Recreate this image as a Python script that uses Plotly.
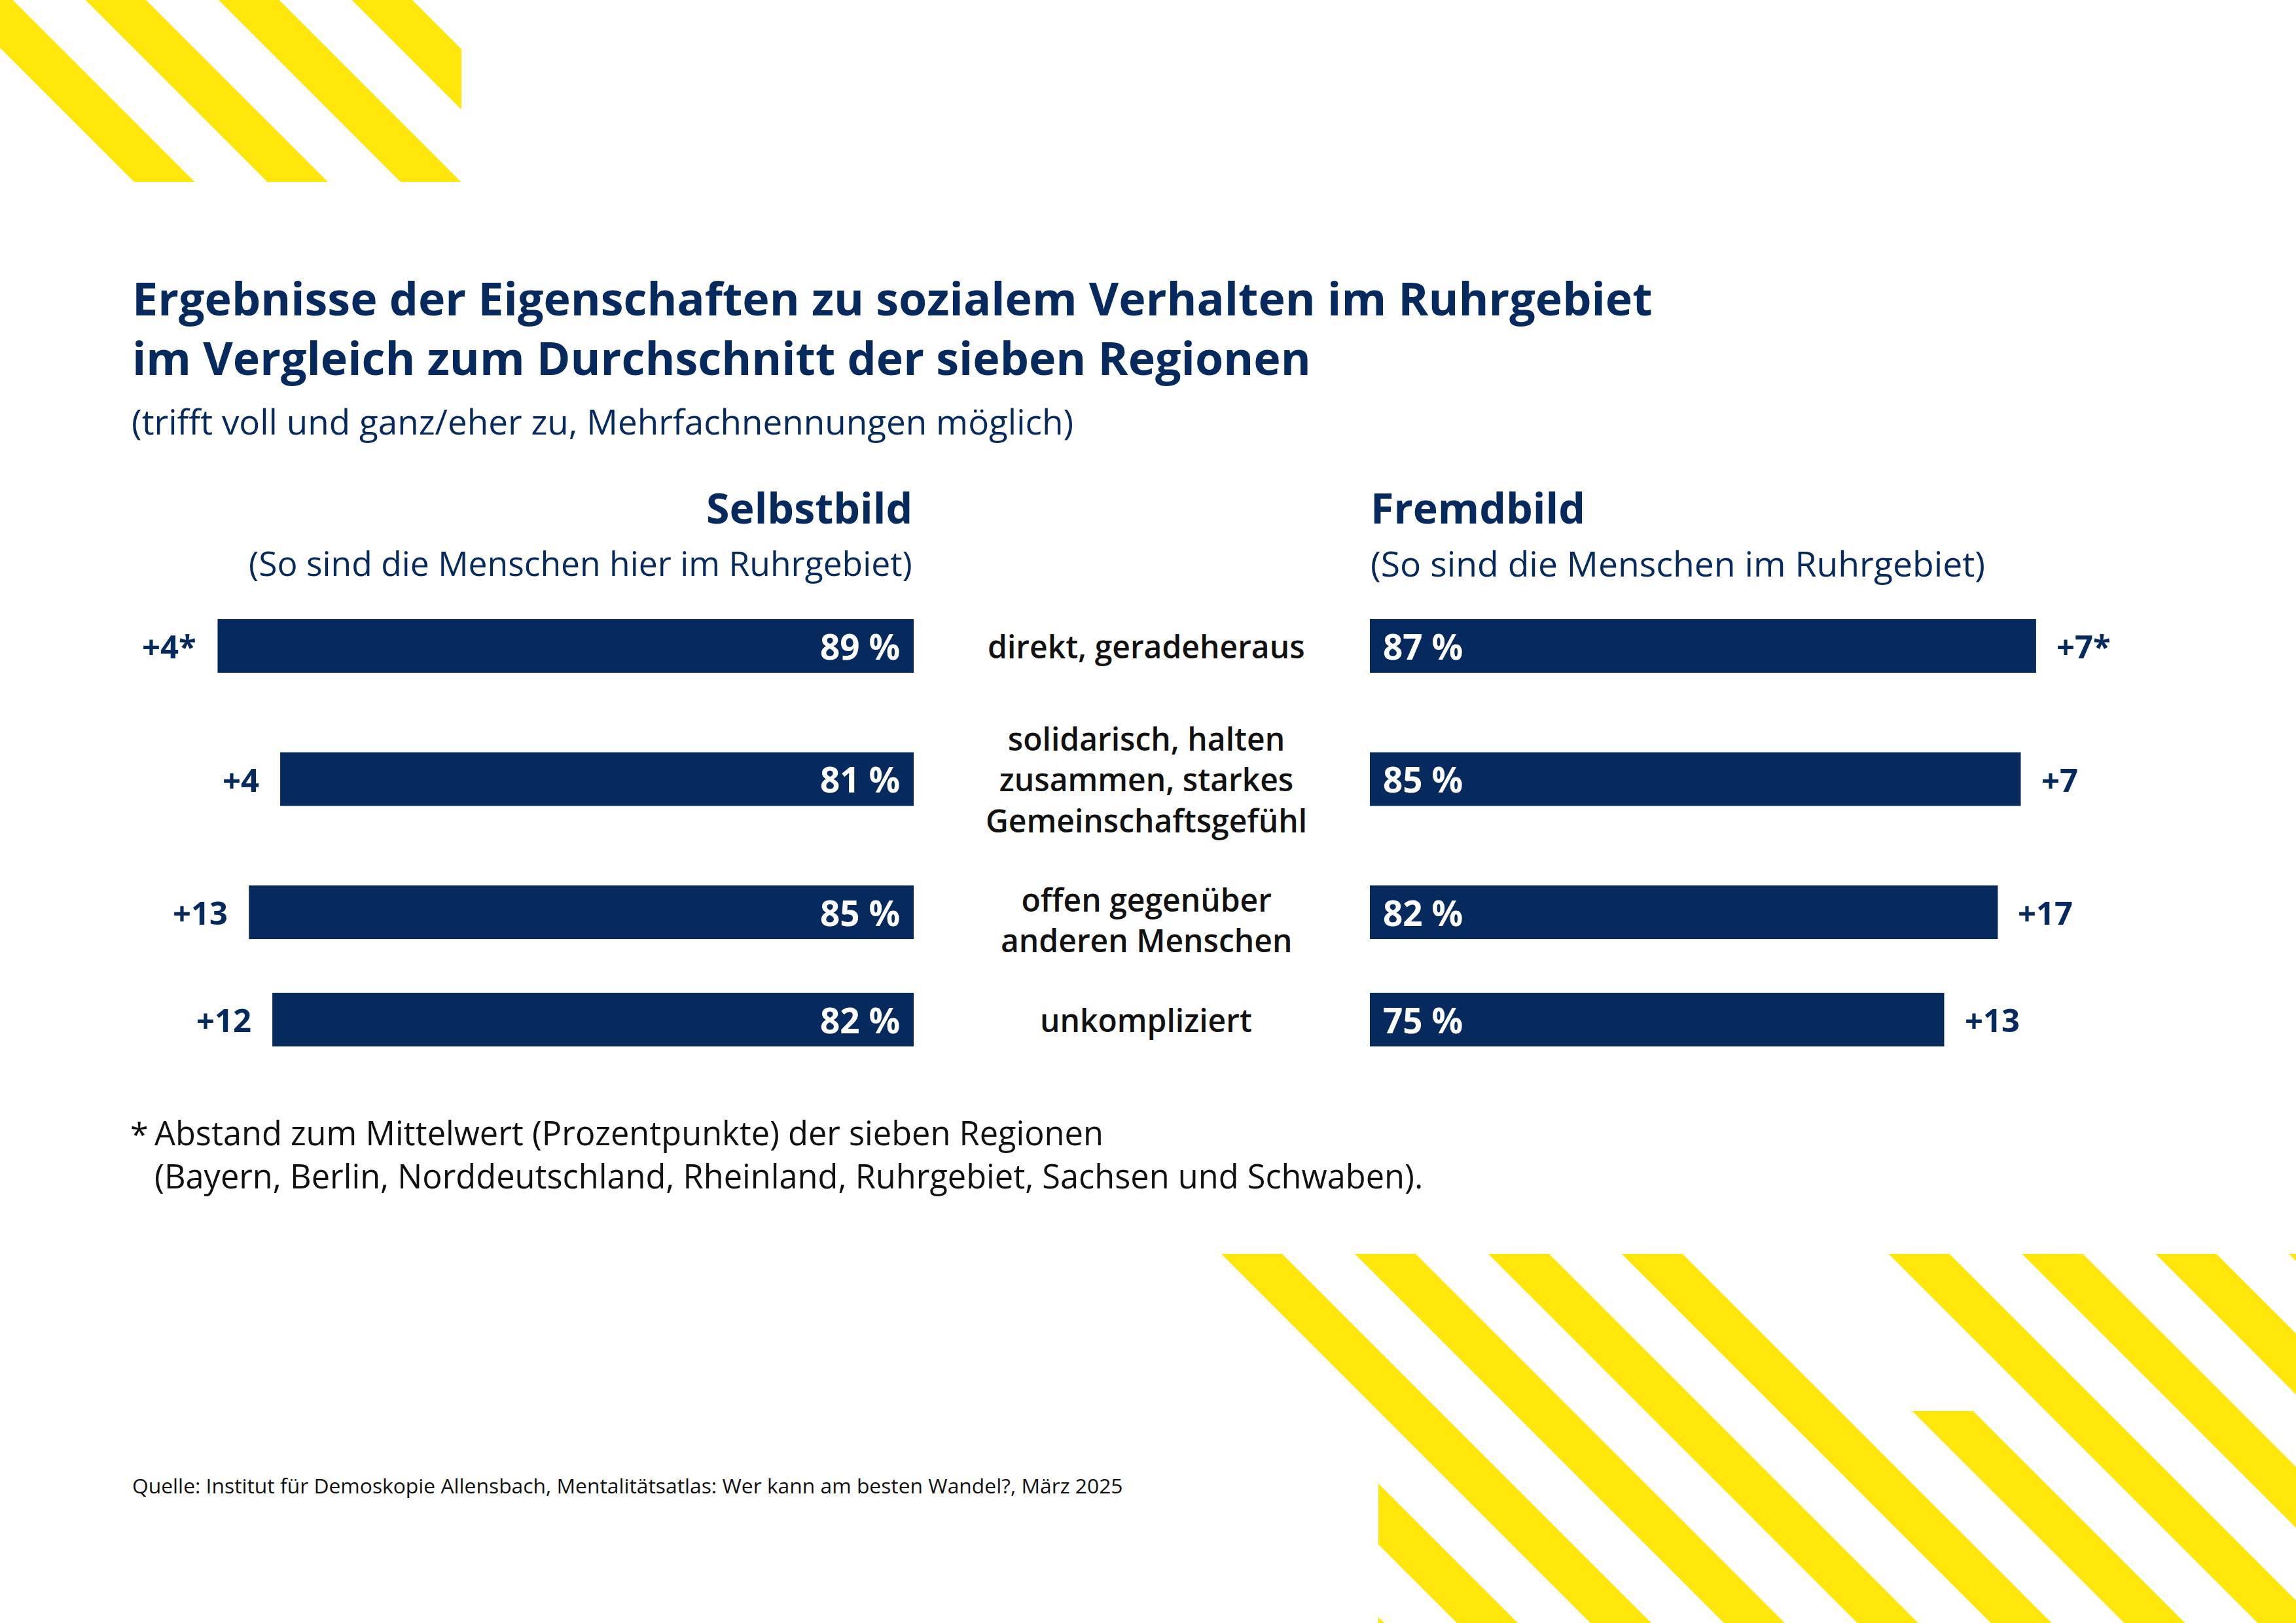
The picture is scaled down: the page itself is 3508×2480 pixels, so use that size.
import plotly.graph_objects as go

# ---------------- data ----------------
categories = [
    "direkt, geradeheraus",
    "solidarisch, halten\nzusammen, starkes\nGemeinschaftsgefühl",
    "offen gegenüber\nanderen Menschen",
    "unkompliziert",
]
selbstbild = [89, 81, 85, 82]
fremdbild = [87, 85, 82, 75]
selbst_delta = ["+4*", "+4", "+13", "+12"]
fremd_delta = ["+7*", "+7", "+17", "+13"]
value_labels_selbst = [f"{v} %" for v in selbstbild]
value_labels_fremd = [f"{v} %" for v in fremdbild]

title_lines = ["Ergebnisse der Eigenschaften zu sozialem Verhalten im Ruhrgebiet",
               "im Vergleich zum Durchschnitt der sieben Regionen"]
subtitle_text = "(trifft voll und ganz/eher zu, Mehrfachnennungen möglich)"
left_head = "Selbstbild"
left_sub = "(So sind die Menschen hier im Ruhrgebiet)"
right_head = "Fremdbild"
right_sub = "(So sind die Menschen im Ruhrgebiet)"
footnote_lines = ["Abstand zum Mittelwert (Prozentpunkte) der sieben Regionen",
                  "(Bayern, Berlin, Norddeutschland, Rheinland, Ruhrgebiet, Sachsen und Schwaben)."]
source_text = "Quelle: Institut für Demoskopie Allensbach, Mentalitätsatlas: Wer kann am besten Wandel?, März 2025"

# ---------------- layout constants ----------------
W, H = 3508, 2480
NAVY = "#062a5e"
YELLOW = "#ffe70b"
BLACK = "#111111"
FONT = "Open Sans"

row_slot = [0, 1, 2, 2.806]      # vertical slots of the rows (uneven spacing as in original)
row_extra_shift = [0, 0, 11, 0]  # label offset (px, downwards) relative to the bar centre
SLOT_PX = 203.5
ROW0_PX = 987
bar_w = 82 / SLOT_PX
LEFT_ZERO, LEFT_PPT = 1396, 11.95
RIGHT_ZERO, RIGHT_PPT = 2093, 11.70


def px(x):
    return x / W


def py(y):
    return 1 - y / H


fig = go.Figure()

fig.add_trace(go.Bar(
    x=selbstbild, y=row_slot, orientation="h", width=bar_w,
    marker=dict(color=NAVY, line=dict(width=0)),
    xaxis="x", yaxis="y", hoverinfo="skip", showlegend=False,
))
fig.add_trace(go.Bar(
    x=fremdbild, y=row_slot, orientation="h", width=bar_w,
    marker=dict(color=NAVY, line=dict(width=0)),
    xaxis="x2", yaxis="y", hoverinfo="skip", showlegend=False,
))

ann = []
for i in range(len(categories)):
    ann.append(dict(xref="x", yref="y", x=0, y=row_slot[i], text=value_labels_selbst[i],
                    xanchor="right", yanchor="middle", xshift=-19, showarrow=False,
                    font=dict(family=FONT, size=53, color="white", weight="bold")))
    ann.append(dict(xref="x2", yref="y", x=0, y=row_slot[i], text=value_labels_fremd[i],
                    xanchor="left", yanchor="middle", xshift=18, showarrow=False,
                    font=dict(family=FONT, size=53, color="white", weight="bold")))
    ann.append(dict(xref="x", yref="y", x=selbstbild[i], y=row_slot[i], text=selbst_delta[i],
                    xanchor="right", yanchor="middle", xshift=-30, showarrow=False,
                    font=dict(family=FONT, size=49, color=NAVY, weight="bold")))
    ann.append(dict(xref="x2", yref="y", x=fremdbild[i], y=row_slot[i], text=fremd_delta[i],
                    xanchor="left", yanchor="middle", xshift=29, showarrow=False,
                    font=dict(family=FONT, size=49, color=NAVY, weight="bold")))
    ann.append(dict(xref="paper", yref="y", x=px(1751), y=row_slot[i],
                    text=categories[i].replace("\n", "<br>"), align="center",
                    xanchor="center", yanchor="middle", showarrow=False,
                    yshift=-row_extra_shift[i],
                    font=dict(family=FONT, size=48, color=BLACK, weight=600)))

ann += [
    dict(xref="paper", yref="paper", x=px(200), y=py(500), text="<br>".join(title_lines),
         align="left", xanchor="left", yanchor="middle", showarrow=False,
         font=dict(family=FONT, size=70, color=NAVY, weight="bold")),
    dict(xref="paper", yref="paper", x=px(199), y=py(643), text=subtitle_text,
         xanchor="left", yanchor="middle", showarrow=False,
         font=dict(family=FONT, size=53, color=NAVY)),
    dict(xref="paper", yref="paper", x=px(1396), y=py(775), text=left_head,
         xanchor="right", yanchor="middle", showarrow=False,
         font=dict(family=FONT, size=64.5, color=NAVY, weight="bold")),
    dict(xref="paper", yref="paper", x=px(1396), y=py(860), text=left_sub,
         xanchor="right", yanchor="middle", showarrow=False,
         font=dict(family=FONT, size=51.6, color=NAVY)),
    dict(xref="paper", yref="paper", x=px(2092), y=py(775), text=right_head,
         xanchor="left", yanchor="middle", showarrow=False,
         font=dict(family=FONT, size=64.5, color=NAVY, weight="bold")),
    dict(xref="paper", yref="paper", x=px(2092), y=py(860), text=right_sub,
         xanchor="left", yanchor="middle", showarrow=False,
         font=dict(family=FONT, size=53.5, color=NAVY)),
    dict(xref="paper", yref="paper", x=px(197), y=py(1733), text="*",
         xanchor="left", yanchor="middle", showarrow=False,
         font=dict(family=FONT, size=50, color=BLACK)),
    dict(xref="paper", yref="paper", x=px(234), y=py(1763), text="<br>".join(footnote_lines),
         align="left", xanchor="left", yanchor="middle", showarrow=False,
         font=dict(family=FONT, size=50.5, color=BLACK)),
    dict(xref="paper", yref="paper", x=px(200), y=py(2269), text=source_text,
         xanchor="left", yanchor="middle", showarrow=False,
         font=dict(family=FONT, size=31.8, color=BLACK)),
]


# ---------------- decorative stripes ----------------
def clip(poly, x0, x1, y0, y1):
    def clip_edge(pts, inside, inter):
        out = []
        for k in range(len(pts)):
            cur, prev = pts[k], pts[k - 1]
            if inside(cur):
                if not inside(prev):
                    out.append(inter(prev, cur))
                out.append(cur)
            elif inside(prev):
                out.append(inter(prev, cur))
        return out

    def ix(xc):
        return lambda a, b: (xc, a[1] + (b[1] - a[1]) * (xc - a[0]) / (b[0] - a[0]))

    def iy(yc):
        return lambda a, b: (a[0] + (b[0] - a[0]) * (yc - a[1]) / (b[1] - a[1]), yc)

    pts = poly
    for inside, inter in [(lambda p: p[0] >= x0, ix(x0)), (lambda p: p[0] <= x1, ix(x1)),
                          (lambda p: p[1] >= y0, iy(y0)), (lambda p: p[1] <= y1, iy(y1))]:
        if not pts:
            break
        pts = clip_edge(pts, inside, inter)
    return pts


def stripe(c, w, region):
    poly = [(c - 200, -200), (c + w - 200, -200), (c + w + 2800, 2800), (c + 2800, 2800)]
    pts = clip(poly, *region)
    if len(pts) < 3:
        return None
    path = "M " + " L ".join(f"{px(x):.6f},{py(y):.6f}" for x, y in pts) + " Z"
    return dict(type="path", xref="paper", yref="paper", path=path,
                fillcolor=YELLOW, line=dict(width=0), layer="below")


shapes = []
for k in range(4):
    s = stripe(-73 + 203.5 * k, 92.5, (0, 705, 0, 278))
    if s:
        shapes.append(s)
for k in range(-2, 9):
    c = -50 + 203.9 * k
    if k < 0:
        region = (2106, W, 1916, H)
    elif k == 4:
        region = (0, W, 2156, H)
    else:
        region = (0, W, 1916, H)
    s = stripe(c, 93, region)
    if s:
        shapes.append(s)

left_dom = [px(LEFT_ZERO - 100 * LEFT_PPT), px(LEFT_ZERO)]
right_dom = [px(RIGHT_ZERO), px(RIGHT_ZERO + 100 * RIGHT_PPT)]

fig.update_layout(
    width=W, height=H,
    margin=dict(l=0, r=0, t=0, b=0),
    paper_bgcolor="white", plot_bgcolor="rgba(0,0,0,0)",
    barmode="overlay",
    xaxis=dict(domain=left_dom, range=[100, 0], visible=False, anchor="y", fixedrange=True),
    xaxis2=dict(domain=right_dom, range=[0, 100], visible=False, anchor="y", fixedrange=True),
    yaxis=dict(domain=[0, 1], range=[(H - ROW0_PX) / SLOT_PX, -ROW0_PX / SLOT_PX],
               visible=False, anchor="x", fixedrange=True),
    annotations=ann,
    shapes=shapes,
    showlegend=False,
)

fig.write_html("out.html", post_script="document.body.style.margin='0';",
               config={"displayModeBar": False})
